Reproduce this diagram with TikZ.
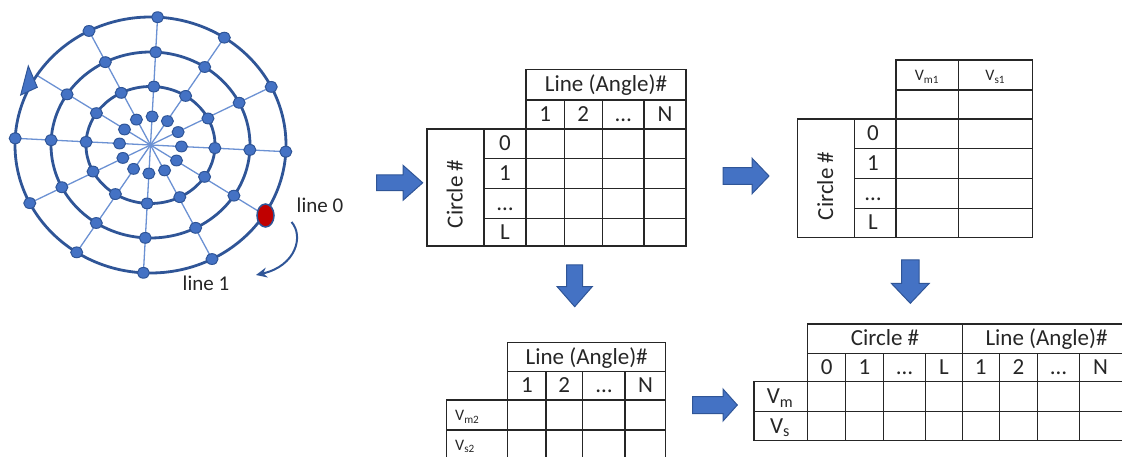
\documentclass[tikz,border=0pt]{standalone}
\usepackage{fontspec}
\setmainfont{Carlito}
\usetikzlibrary{arrows.meta}
\definecolor{ringblue}{HTML}{2F5597}
\definecolor{dotblue}{HTML}{4472C4}
\definecolor{spokeblue}{HTML}{6B91D3}
\definecolor{dotred}{HTML}{C00000}
\definecolor{txt}{HTML}{262626}
\tikzset{
  grid/.style={line width=1.3pt, draw=black!85},
  cell/.style={font=\fontsize{23}{27}\selectfont, text=txt, inner sep=0pt, text height=14pt, text depth=0pt},
  smallcell/.style={font=\fontsize{16}{19}\selectfont, text=txt, inner sep=0pt, text height=11pt, text depth=0pt},
  blockarrow/.style={fill=dotblue, draw=ringblue, line width=1pt, line join=miter},
  ring/.style={draw=ringblue, line width=2.8pt},
  spoke/.style={draw=spokeblue, line width=1.3pt},
  dot/.style={fill=dotblue, draw=ringblue, line width=1pt},
  lbl/.style={font=\fontsize{21}{25}\selectfont, text=txt, inner sep=0pt},
}
\begin{document}
\begin{tikzpicture}[x=1pt,y=-1pt]
\useasboundingbox (0,0) rectangle (1122,457);
\clip (0,0) rectangle (1122,457);

% ---------------- spiral / web ----------------
\def\cx{150.5}\def\cy{145}
\foreach \k in {0,...,11}
  \draw[spoke] (\cx,\cy) -- ({\cx+135.5*cos(30*\k-3)},{\cy-128*sin(30*\k-3)});
\foreach \rx/\ry in {64.5/58.5, 99.5/93, 135.5/128}
  \draw[ring] (\cx,\cy) ellipse [x radius=\rx pt, y radius=\ry pt];
\foreach \rx/\ry in {31/28.5, 64.5/58.5, 99.5/93}
  \foreach \k in {0,...,11}
    \filldraw[dot] ({\cx+\rx*cos(30*\k-3)},{\cy-\ry*sin(30*\k-3)}) ellipse [x radius=6pt, y radius=5.4pt];
\foreach \k in {0,1,2,3,4,6,7,8,9,10}
  \filldraw[dot] ({\cx+135.5*cos(30*\k-3)},{\cy-128*sin(30*\k-3)}) ellipse [x radius=6pt, y radius=5.4pt];
\filldraw[fill=dotred, draw=ringblue, line width=1.5pt] (265.5,215.5) ellipse [x radius=8.5pt, y radius=11.5pt];
\filldraw[dot] (28.3,66) -- (20.7,95) -- (37.3,87.3) -- cycle;
\coordinate (c0) at (291.5,222);
\coordinate (c1) at (256,275);
\draw[draw=ringblue, line width=2pt, -{Stealth[length=11pt,width=10pt]}] (c0) .. controls (304,236) and (296,266) .. (c1);
\node[lbl] (line0) at (320,205) {line 0};
\node[lbl] (line1) at (206,283) {line 1};

% ---------------- block arrows ----------------
\filldraw[blockarrow] (376.7,175) -- (403,175) -- (403,165.3) -- (422.7,182.8) -- (403,200.3) -- (403,190.6) -- (376.7,190.6) -- cycle;
\filldraw[blockarrow] (723,167.7) -- (752,167.7) -- (752,158.2) -- (769,176) -- (752,193.8) -- (752,184.3) -- (723,184.3) -- cycle;
\filldraw[blockarrow] (692.7,396.5) -- (723,396.5) -- (723,389) -- (737.3,405) -- (723,421) -- (723,413.5) -- (692.7,413.5) -- cycle;
\filldraw[blockarrow] (566.7,265) -- (582.7,265) -- (582.7,286.7) -- (592.2,286.7) -- (574.7,306.7) -- (557.2,286.7) -- (566.7,286.7) -- cycle;
\filldraw[blockarrow] (901.6,260) -- (919,260) -- (919,283.3) -- (929.3,283.3) -- (910.3,303.3) -- (891.3,283.3) -- (901.6,283.3) -- cycle;

% ---------------- table 1 ----------------
\draw[grid] (526,69.5) rectangle (686,246);
\draw[grid] (427,129) rectangle (686,246);
\draw[grid] (526,100) -- (686,100);
\draw[grid] (484,129) -- (484,246);
\foreach \y in {158.3,188.3,218.3} \draw[grid] (484,\y) -- (686,\y);
\foreach \x in {564.3,602.3,644} \draw[grid] (\x,100) -- (\x,246);
\node[cell] (t1h) at (606,85) {Line (Angle)\#};
\node[cell] (t1c1) at (545.2,114.5) {1};
\node[cell] (t1c2) at (583.3,114.5) {2};
\node[cell] (t1c3) at (623.2,114.5) {…};
\node[cell] (t1c4) at (665,114.5) {N};
\node[cell] (t1r0) at (505,143.7) {0};
\node[cell] (t1r1) at (505,173.3) {1};
\node[cell] (t1r2) at (505,203.3) {…};
\node[cell] (t1r3) at (505,232.2) {L};
\node[cell, rotate=90] (t1v) at (455.5,194) {Circle \#};

% ---------------- table 2 ----------------
\draw[grid] (896,60) rectangle (1032.3,237.3);
\draw[grid] (797.7,119) rectangle (1032.3,237.3);
\draw[grid] (896,90) -- (1032.3,90);
\draw[grid] (896,119) -- (1032.3,119);
\draw[grid] (854.3,119) -- (854.3,237.3);
\foreach \y in {148.3,178.3,208.3} \draw[grid] (854.3,\y) -- (1032.3,\y);
\draw[grid] (958.3,60) -- (958.3,237.3);
\node[smallcell] (t2h1) at (927,75) {V\textsubscript{m1}};
\node[smallcell] (t2h2) at (995.3,75) {V\textsubscript{s1}};
\node[cell] (t2r0) at (873,133.7) {0};
\node[cell] (t2r1) at (873,163.3) {1};
\node[cell] (t2r2) at (873,193.3) {…};
\node[cell] (t2r3) at (873,222.8) {L};
\node[cell, rotate=90] (t2v) at (826,186) {Circle \#};

% ---------------- table 3 ----------------
\draw[grid] (507.7,342.3) rectangle (665.7,470);
\draw[grid] (446.7,400) rectangle (665.7,470);
\draw[grid] (507.7,371.7) -- (665.7,371.7);
\draw[grid] (446.7,430) -- (665.7,430);
\foreach \x in {546,582.7,625} \draw[grid] (\x,371.7) -- (\x,470);
\node[cell] (t3h) at (586.7,357) {Line (Angle)\#};
\node[cell] (t3c1) at (527,385.8) {1};
\node[cell] (t3c2) at (564.3,385.8) {2};
\node[cell] (t3c3) at (604,385.8) {…};
\node[cell] (t3c4) at (645.5,385.8) {N};
\node[smallcell, anchor=west] (t3r1) at (455,415) {V\textsubscript{m2}};
\node[smallcell, anchor=west] (t3r2) at (455,444.5) {V\textsubscript{s2}};

% ---------------- table 4 ----------------
\draw[grid] (807.7,324) rectangle (1130,440.7);
\draw[grid] (754,381.7) rectangle (1130,440.7);
\draw[grid] (807.7,353.3) -- (1130,353.3);
\draw[grid] (754,411.7) -- (1130,411.7);
\draw[grid] (962.3,324) -- (962.3,440.7);
\foreach \x in {845.7,883.3,925.7,999.3,1037.7,1079.3} \draw[grid] (\x,353.3) -- (\x,440.7);
\node[cell] (t4h1) at (885,338.7) {Circle \#};
\node[cell] (t4h2) at (1046.5,338.7) {Line (Angle)\#};
\node[cell] (t4a0) at (826.7,367.5) {0};
\node[cell] (t4a1) at (864.5,367.5) {1};
\node[cell] (t4a2) at (904.5,367.5) {…};
\node[cell] (t4a3) at (944,367.5) {L};
\node[cell] (t4b1) at (980.8,367.5) {1};
\node[cell] (t4b2) at (1018.5,367.5) {2};
\node[cell] (t4b3) at (1058.5,367.5) {…};
\node[cell] (t4b4) at (1100.5,367.5) {N};
\node[cell] (t4r1) at (780,396.7) {V\textsubscript{m}};
\node[cell] (t4r2) at (780,426.2) {V\textsubscript{s}};
\end{tikzpicture}
\end{document}
